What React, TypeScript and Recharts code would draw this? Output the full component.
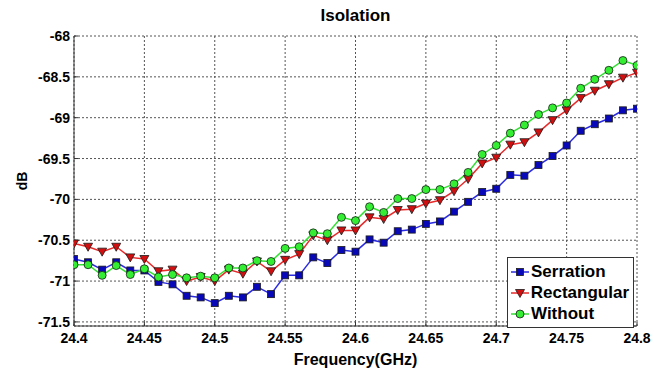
import * as React from "react"
import {
  LineChart,
  Line,
  XAxis,
  YAxis,
  CartesianGrid,
  Legend,
} from "recharts"

// frequency points (GHz)
const freq = [
  24.4, 24.41, 24.42, 24.43, 24.44, 24.45, 24.46, 24.47, 24.48, 24.49,
  24.5, 24.51, 24.52, 24.53, 24.54, 24.55, 24.56, 24.57, 24.58, 24.59,
  24.6, 24.61, 24.62, 24.63, 24.64, 24.65, 24.66, 24.67, 24.68, 24.69,
  24.7, 24.71, 24.72, 24.73, 24.74, 24.75, 24.76, 24.77, 24.78, 24.79, 24.8,
]

const serration = [
  -70.73, -70.77, -70.86, -70.77, -70.87, -70.87, -71.01, -71.04, -71.18, -71.2,
  -71.27, -71.18, -71.2, -71.07, -71.16, -70.93, -70.93, -70.71, -70.78, -70.62,
  -70.64, -70.49, -70.53, -70.39, -70.37, -70.3, -70.27, -70.15, -70.03, -69.91,
  -69.87, -69.7, -69.71, -69.58, -69.47, -69.34, -69.16, -69.08, -69.01, -68.91, -68.89,
]

const rectangular = [
  -70.54, -70.58, -70.64, -70.58, -70.71, -70.73, -70.88, -70.86, -71.0, -70.95,
  -71.0, -70.86, -70.91, -70.76, -70.88, -70.74, -70.67, -70.44, -70.5, -70.38,
  -70.38, -70.22, -70.24, -70.13, -70.12, -70.05, -70.01, -69.9, -69.75, -69.56,
  -69.49, -69.33, -69.3, -69.18, -69.03, -68.91, -68.76, -68.67, -68.59, -68.51, -68.45,
]

const without = [
  -70.8, -70.8, -70.93, -70.81, -70.92, -70.85, -70.95, -70.92, -70.96, -70.94,
  -70.96, -70.84, -70.84, -70.75, -70.76, -70.6, -70.58, -70.41, -70.42, -70.22,
  -70.26, -70.09, -70.16, -69.99, -69.99, -69.88, -69.88, -69.81, -69.67, -69.45,
  -69.34, -69.19, -69.09, -68.96, -68.88, -68.82, -68.64, -68.53, -68.42, -68.3, -68.36,
]

const xTicks = [24.4, 24.45, 24.5, 24.55, 24.6, 24.65, 24.7, 24.75, 24.8]
const yTicks = [-71.5, -71, -70.5, -70, -69.5, -69, -68.5, -68]

const data = freq.map((f, i) => ({
  f,
  serration: serration[i],
  rectangular: rectangular[i],
  without: without[i],
}))

const FONT = "'Liberation Sans', Arial, sans-serif"

const BLUE_LINE = "#2b2be0"
const BLUE_FILL = "#0808b8"
const RED_LINE = "#e82a2a"
const RED_FILL = "#d01010"
const GREEN_LINE = "#33e033"
const GREEN_FILL = "#33ee33"
const EDGE = "#1a1a1a"

const Square = (props: any) => {
  const { cx, cy, index } = props
  if (cx == null || cy == null) return <g key={index} />
  return (
    <rect key={index} x={cx - 3.5} y={cy - 3.5} width={7} height={7}
      fill={BLUE_FILL} stroke={EDGE} strokeWidth={0.8} />
  )
}

const Tri = (props: any) => {
  const { cx, cy, index } = props
  if (cx == null || cy == null) return <g key={index} />
  return (
    <polygon key={index}
      points={`${cx - 4.5},${cy - 3.5} ${cx + 4.5},${cy - 3.5} ${cx},${cy + 4.5}`}
      fill={RED_FILL} stroke={EDGE} strokeWidth={0.8} />
  )
}

const Circ = (props: any) => {
  const { cx, cy, index } = props
  if (cx == null || cy == null) return <g key={index} />
  return <circle key={index} cx={cx} cy={cy} r={4} fill={GREEN_FILL} stroke={EDGE} strokeWidth={0.8} />
}

const legendItems = [
  { name: "Serration", line: BLUE_LINE, marker: "square" },
  { name: "Rectangular", line: RED_LINE, marker: "tri" },
  { name: "Without", line: GREEN_LINE, marker: "circle" },
]

function LegendBox() {
  return (
    <div
      style={{
        border: "1px solid #333",
        background: "#fff",
        padding: "3px 4px 3px 2px",
        fontFamily: FONT,
        fontWeight: "bold",
        fontSize: 17,
        lineHeight: "21px",
        color: "#000",
      }}
    >
      {legendItems.map((it) => (
        <div key={it.name} style={{ display: "flex", alignItems: "center" }}>
          <svg width={20} height={14} style={{ marginRight: 1 }}>
            <line x1={1} y1={7} x2={19} y2={7} stroke={it.line} strokeWidth={1.5} />
            {it.marker === "square" && (
              <rect x={6.5} y={3.5} width={7} height={7} fill={BLUE_FILL} stroke={EDGE} strokeWidth={0.8} />
            )}
            {it.marker === "tri" && (
              <polygon points="5.5,3.5 14.5,3.5 10,11.5" fill={RED_FILL} stroke={EDGE} strokeWidth={0.8} />
            )}
            {it.marker === "circle" && (
              <circle cx={10} cy={7} r={4} fill={GREEN_FILL} stroke={EDGE} strokeWidth={0.8} />
            )}
          </svg>
          <span>{it.name}</span>
        </div>
      ))}
    </div>
  )
}

export default function App() {
  const tickStyle = { fontFamily: FONT, fontWeight: "bold", fontSize: 14, fill: "#000" }
  return (
    <div style={{ position: "absolute", left: 0, top: 0, width: 654, height: 369, background: "#fff" }}>
      <div
        style={{
          position: "absolute",
          left: 74,
          width: 563,
          top: 6,
          textAlign: "center",
          fontFamily: FONT,
          fontWeight: "bold",
          fontSize: 17,
          color: "#000",
        }}
      >
        Isolation
      </div>
      <LineChart
        width={654}
        height={369}
        data={data}
        margin={{ top: 36, right: 17, left: 0, bottom: 0 }}
      >
        <CartesianGrid stroke="#555" strokeDasharray="2 2" />
        <XAxis
          dataKey="f"
          type="number"
          domain={[24.4, 24.8]}
          ticks={xTicks}
          tickFormatter={(v: number) => String(v)}
          height={43}
          stroke="#333"
          tickSize={-4}
          tickMargin={11}
          tick={tickStyle}
          allowDataOverflow
          label={{
            value: "Frequency(GHz)",
            position: "insideBottom",
            offset: 4,
            style: { fontFamily: FONT, fontWeight: "bold", fontSize: 16, fill: "#000" },
          }}
        />
        <YAxis
          type="number"
          domain={[-71.55, -68]}
          ticks={yTicks}
          tickFormatter={(v: number) => String(v)}
          width={74}
          stroke="#333"
          tickSize={-4}
          tickMargin={8}
          tick={tickStyle}
          allowDataOverflow
          label={{
            value: "dB",
            angle: -90,
            position: "insideLeft",
            offset: 22,
            style: { fontFamily: FONT, fontWeight: "bold", fontSize: 14, fill: "#000", textAnchor: "middle" },
          }}
        />
        <Legend
          layout="vertical"
          align="center"
          verticalAlign="middle"
          wrapperStyle={{ left: 507, top: 257, width: 127 }}
          content={() => <LegendBox />}
        />
        <Line
          dataKey="serration"
          name="Serration"
          stroke={BLUE_LINE}
          strokeWidth={1.5}
          dot={Square}
          activeDot={false}
          isAnimationActive={false}
        />
        <Line
          dataKey="rectangular"
          name="Rectangular"
          stroke={RED_LINE}
          strokeWidth={1.5}
          dot={Tri}
          activeDot={false}
          isAnimationActive={false}
        />
        <Line
          dataKey="without"
          name="Without"
          stroke={GREEN_LINE}
          strokeWidth={1.5}
          dot={Circ}
          activeDot={false}
          isAnimationActive={false}
        />
      </LineChart>
    </div>
  )
}
